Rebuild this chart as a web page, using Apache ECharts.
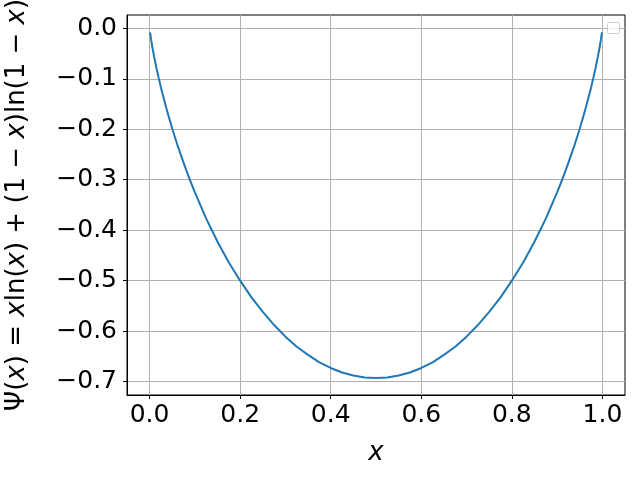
<!DOCTYPE html>
<html>
<head>
<meta charset="utf-8">
<script src="https://cdn.jsdelivr.net/npm/echarts@6/dist/echarts.min.js"></script>
<style>
  html, body { margin: 0; padding: 0; background: #fff; }
  #chart { width: 640px; height: 480px; }
</style>
</head>
<body>
<div id="chart"></div>
<script>
// values
const xValues = [0.001, 0.003, 0.006, 0.01, 0.015, 0.02, 0.025, 0.0375, 0.05, 0.0625, 0.075, 0.0875,
  0.1, 0.125, 0.15, 0.175, 0.2, 0.225, 0.25, 0.275, 0.3, 0.325, 0.35, 0.375, 0.4, 0.425, 0.45, 0.475, 0.5,
  0.525, 0.55, 0.575, 0.6, 0.625, 0.65, 0.675, 0.7, 0.725, 0.75, 0.775, 0.8, 0.825, 0.85, 0.875, 0.9,
  0.9125, 0.925, 0.9375, 0.95, 0.9625, 0.975, 0.98, 0.985, 0.99, 0.994, 0.997, 0.999];
const psiValues = [-0.008, -0.020, -0.037, -0.056, -0.078, -0.098, -0.117, -0.160, -0.199, -0.234, -0.266, -0.297,
  -0.325, -0.377, -0.423, -0.464, -0.500, -0.533, -0.562, -0.588, -0.611, -0.631, -0.647, -0.662, -0.673, -0.682, -0.688, -0.692, -0.693,
  -0.692, -0.688, -0.682, -0.673, -0.662, -0.647, -0.631, -0.611, -0.588, -0.562, -0.533, -0.500, -0.464, -0.423, -0.377, -0.325,
  -0.297, -0.266, -0.234, -0.199, -0.160, -0.117, -0.098, -0.078, -0.056, -0.037, -0.020, -0.008];
const xTicks = [0, 0.2, 0.4, 0.6, 0.8, 1.0];
const yTicks = [0, -0.1, -0.2, -0.3, -0.4, -0.5, -0.6, -0.7];

const chart = echarts.init(document.getElementById("chart"));

const font = "DejaVu Sans";
const fmt = (v) => v.toFixed(1).replace("-", "\u2212");

const option = {
  animation: false,
  grid: {
    left: 127,
    right: 15,
    top: 15,
    bottom: 85,
    outerBoundsMode: "none",
    show: true,
    borderColor: "#000",
    borderWidth: 1,
    backgroundColor: "transparent",
  },
  xAxis: {
    type: "value",
    min: -0.0499,
    max: 1.0499,
    name: "x",
    nameLocation: "middle",
    nameGap: 45,
    nameTextStyle: { fontFamily: font, fontStyle: "italic", fontSize: 26, color: "#000" },
    axisLine: { show: true, onZero: false, lineStyle: { color: "#000", width: 1 } },
    axisTick: { show: true, length: 4, customValues: xTicks, lineStyle: { color: "#000", width: 1 } },
    axisLabel: {
      customValues: xTicks,
      formatter: fmt,
      fontFamily: font,
      fontSize: 25,
      color: "#000",
      margin: 8,
    },
    splitLine: { show: true, lineStyle: { color: "#b0b0b0", width: 1 } },
  },
  yAxis: {
    type: "value",
    min: -0.7266,
    max: 0.0265,
    name: "{r|Ψ(}{i|x}{r|) = }{i|x}{r|ln(}{i|x}{r|) + (1 − }{i|x}{r|)ln(1 − }{i|x}{r|)}",
    nameLocation: "middle",
    nameRotate: 90,
    nameGap: 97,
    nameTextStyle: {
      color: "#000",
      rich: {
        r: { fontFamily: font, fontSize: 26, color: "#000" },
        i: { fontFamily: font, fontStyle: "italic", fontSize: 26, color: "#000" },
      },
    },
    axisLine: { show: true, onZero: false, lineStyle: { color: "#000", width: 1 } },
    axisTick: { show: true, length: 4, customValues: yTicks, lineStyle: { color: "#000", width: 1 } },
    axisLabel: {
      customValues: yTicks,
      formatter: fmt,
      fontFamily: font,
      fontSize: 25,
      color: "#000",
      margin: 10,
    },
    splitLine: { show: true, lineStyle: { color: "#b0b0b0", width: 1 } },
  },
  series: [
    {
      type: "line",
      data: xValues.map((x, i) => [x, psiValues[i]]),
      smooth: false,
      showSymbol: false,
      lineStyle: { color: "#1f77b4", width: 2 },
      z: 3,
    },
  ],
  graphic: [
    {
      type: "rect",
      left: 607,
      top: 22,
      shape: { width: 12, height: 11, r: 2 },
      style: { fill: "rgba(255,255,255,0.8)", stroke: "#cccccc", lineWidth: 1 },
      z: 10,
    },
  ],
};

chart.setOption(option);
</script>
</body>
</html>
